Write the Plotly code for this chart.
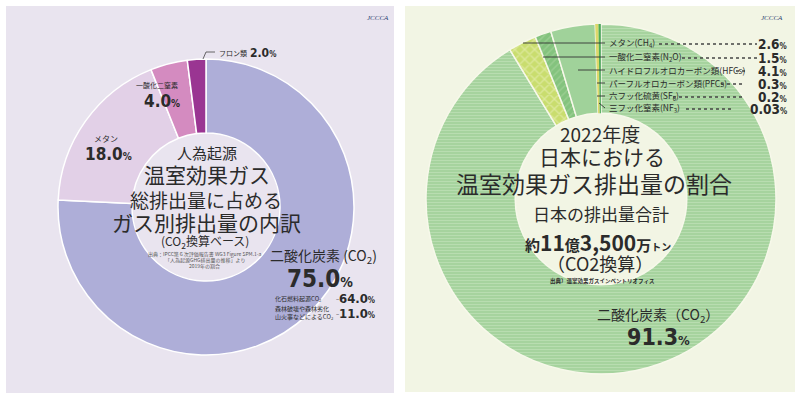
import plotly.graph_objects as go

W, H = 800, 400


def px(x):
    return x / W


def py(y):
    return 1 - y / H


# ---------------- data ----------------
world_labels = ["二酸化炭素 (CO<sub>2</sub>)", "メタン", "一酸化二窒素", "フロン類"]
world_values = [75.0, 18.0, 4.0, 2.0]
co2_breakdown_labels = ["化石燃料起源CO<sub>2</sub>", "森林破壊や森林劣化<br>山火事などによるCO<sub>2</sub>"]
co2_breakdown_values = [64.0, 11.0]

japan_labels = ["二酸化炭素（CO<sub>2</sub>）", "メタン(CH<sub>4</sub>)", "一酸化二窒素(N<sub>2</sub>O)",
                "ハイドロフルオロカーボン類(HFCs)", "パーフルオロカーボン類(PFCs)",
                "六フッ化硫黄(SF<sub>6</sub>)", "三フッ化窒素(NF<sub>3</sub>)"]
japan_values = [91.3, 2.6, 1.5, 4.1, 0.3, 0.2, 0.03]

# ---------------- styles ----------------
JP = "Noto Sans CJK JP"
NUM = "Liberation Sans Narrow, DejaVu Sans Condensed, Roboto, Arial, sans-serif"
TXT = "#2b2b2b"

world_colors = ["#aeaed8", "#e2d0e7", "#d48bc0", "#9a3592"]
japan_colors = ["#a6d39e", "#c9dd6e", "#84c37e", "#a0d29a", "#dcd86a", "#4fae55", "#2e8b57"]
japan_fg = ["#b8ddb0", "#dce89a", "#98cd90", "#a0d29a", "#dcd86a", "#4fae55", "#2e8b57"]

fig = go.Figure()

fig.add_trace(go.Pie(
    values=world_values, labels=world_labels, sort=False,
    direction="clockwise", rotation=0, hole=0.5,
    textinfo="none", showlegend=False,
    marker=dict(colors=world_colors, line=dict(color="white", width=1.5)),
    domain=dict(x=[px(58), px(354)], y=[py(355), py(59)]),
))

fig.add_trace(go.Pie(
    values=japan_values, labels=japan_labels, sort=False,
    direction="clockwise", rotation=0, hole=0.49,
    textinfo="none", showlegend=False,
    marker=dict(
        colors=japan_colors,
        line=dict(color="#f7f8ea", width=[1.5, 1.5, 1.5, 1.5, 0, 0, 0]),
        pattern=dict(
            shape=["-", "x", "/", "", "", "", ""],
            bgcolor=japan_colors,
            fgcolor=japan_fg,
            size=[3, 7, 5, 8, 8, 8, 8],
            solidity=[0.35, 0.35, 0.3, 0.2, 0.2, 0.2, 0.2],
            fillmode="replace",
        ),
    ),
    domain=dict(x=[px(426), px(776)], y=[py(374), py(24)]),
))

shapes = [
    dict(type="rect", xref="paper", yref="paper", x0=px(6), x1=px(394), y0=py(393), y1=py(6),
         fillcolor="#e9e4ef", line=dict(width=0), layer="below"),
    dict(type="rect", xref="paper", yref="paper", x0=px(405), x1=px(795), y0=py(392), y1=py(6),
         fillcolor="#f2f5e4", line=dict(width=0), layer="below"),
    # フロン類 leader
    dict(type="path", xref="paper", yref="paper",
         path=f"M {px(203)} {py(59)} L {px(206)} {py(52)} L {px(215)} {py(52)}",
         line=dict(color="#444", width=0.8)),
]

ann = []


def add(x, y, text, size, color=TXT, family=JP, xanchor="center", yanchor="middle", align="center"):
    ann.append(dict(x=px(x), y=py(y), xref="paper", yref="paper", text=text, showarrow=False,
                    font=dict(size=size, color=color, family=family),
                    xanchor=xanchor, yanchor=yanchor, align=align))


def pct(v, fmt, small):
    return f"<b>{v:{fmt}}</b><span style='font-size:{small}px'><b>%</b></span>"


# ---- left panel ----
add(378, 18, "<i>JCCCA</i>", 7, color="#2c3f70", family="Liberation Serif")
add(217, 53, world_labels[3], 7, xanchor="left")
add(248, 53, pct(world_values[3], ".1f", 8), 12, family=NUM, xanchor="left")
add(157, 85, world_labels[2], 7)
add(162, 101, pct(world_values[2], ".1f", 10), 17, family=NUM)
add(106, 138, world_labels[1], 8)
add(108, 154, pct(world_values[1], ".1f", 10), 17, family=NUM)

add(207, 152, "人為起源", 15)
add(207, 174, "温室効果ガス", 21)
add(206, 199, "総排出量に占める", 19)
add(206, 222, "ガス別排出量の内訳", 21)
add(205, 241, "(CO<sub>2</sub>換算ベース)", 12)
add(205, 254, "出典：IPCC第６次評価報告書 WG3 Figure SPM.1-a", 5, color="#555")
add(205, 260, "「人為起源GHG排出量の推移」より", 5, color="#555")
add(205, 266, "2019年の割合", 5, color="#555")

add(323, 256, world_labels[0], 14)
add(320, 279, pct(world_values[0], ".1f", 14), 24, family=NUM)
add(273, 298, co2_breakdown_labels[0], 6, xanchor="left")
add(337, 298, "–", 6)
add(377, 298, pct(co2_breakdown_values[0], ".1f", 8), 13, family=NUM, xanchor="right")
add(273, 312, co2_breakdown_labels[1], 6, xanchor="left", align="left")
add(337, 313, "–", 6)
add(377, 313, pct(co2_breakdown_values[1], ".1f", 8), 13, family=NUM, xanchor="right")

# ---- right panel ----
add(772, 18, "<i>JCCCA</i>", 7, color="#2c3f70", family="Liberation Serif")
rows_y = [43, 57, 70, 83, 96, 108]
label_end = [656, 679, 733, 718, 670, 683]
pct_start = [757, 759, 746, 742, 744, 731]
line_start = [(523, 43), (543, 57), (578, 70), (597, 83), (597, 96)]
for i in range(6):
    y = rows_y[i]
    add(607, y, japan_labels[i + 1], 8.5, xanchor="left")
    add(789, y + 1, pct(japan_values[i + 1], "g", 8), 13.5, family=NUM, xanchor="right")
    shapes.append(dict(type="line", xref="paper", yref="paper",
                       x0=px(label_end[i] + 3), x1=px(pct_start[i]), y0=py(y + 1), y1=py(y + 1),
                       line=dict(color="#444", width=1.3, dash="dot")))
    if i < 5:
        x0, y0 = line_start[i]
        shapes.append(dict(type="line", xref="paper", yref="paper",
                           x0=px(x0), x1=px(605), y0=py(y0), y1=py(y0),
                           line=dict(color="#333", width=0.9)))
shapes.append(dict(type="line", xref="paper", yref="paper",
                   x0=px(599), x1=px(605), y0=py(103), y1=py(108),
                   line=dict(color="#333", width=0.9)))

add(600, 133, "2022年度", 19)
add(602, 156, "日本における", 21)
add(594, 183, "温室効果ガス排出量の割合", 23)
add(601, 213, "日本の排出量合計", 17)
add(598, 242,
    "<b><span style='font-size:15px'>約</span>11<span style='font-size:15px'>億</span>"
    "3,500<span style='font-size:15px'>万</span><span style='font-size:10px'>トン</span></b>",
    21)
add(600, 263, "（CO2換算）", 18)
add(602, 281, "<b>出典）温室効果ガスインベントリオフィス</b>", 5.5)
add(658, 315, japan_labels[0], 14)
add(658, 337, pct(japan_values[0], ".1f", 13), 23, family=NUM)

fig.update_layout(
    width=W, height=H,
    margin=dict(l=0, r=0, t=0, b=0),
    paper_bgcolor="white",
    plot_bgcolor="white",
    shapes=shapes,
    annotations=ann,
)

fig.write_html("out.html", config={"displayModeBar": False},
               post_script="document.body.style.margin='0px';")
